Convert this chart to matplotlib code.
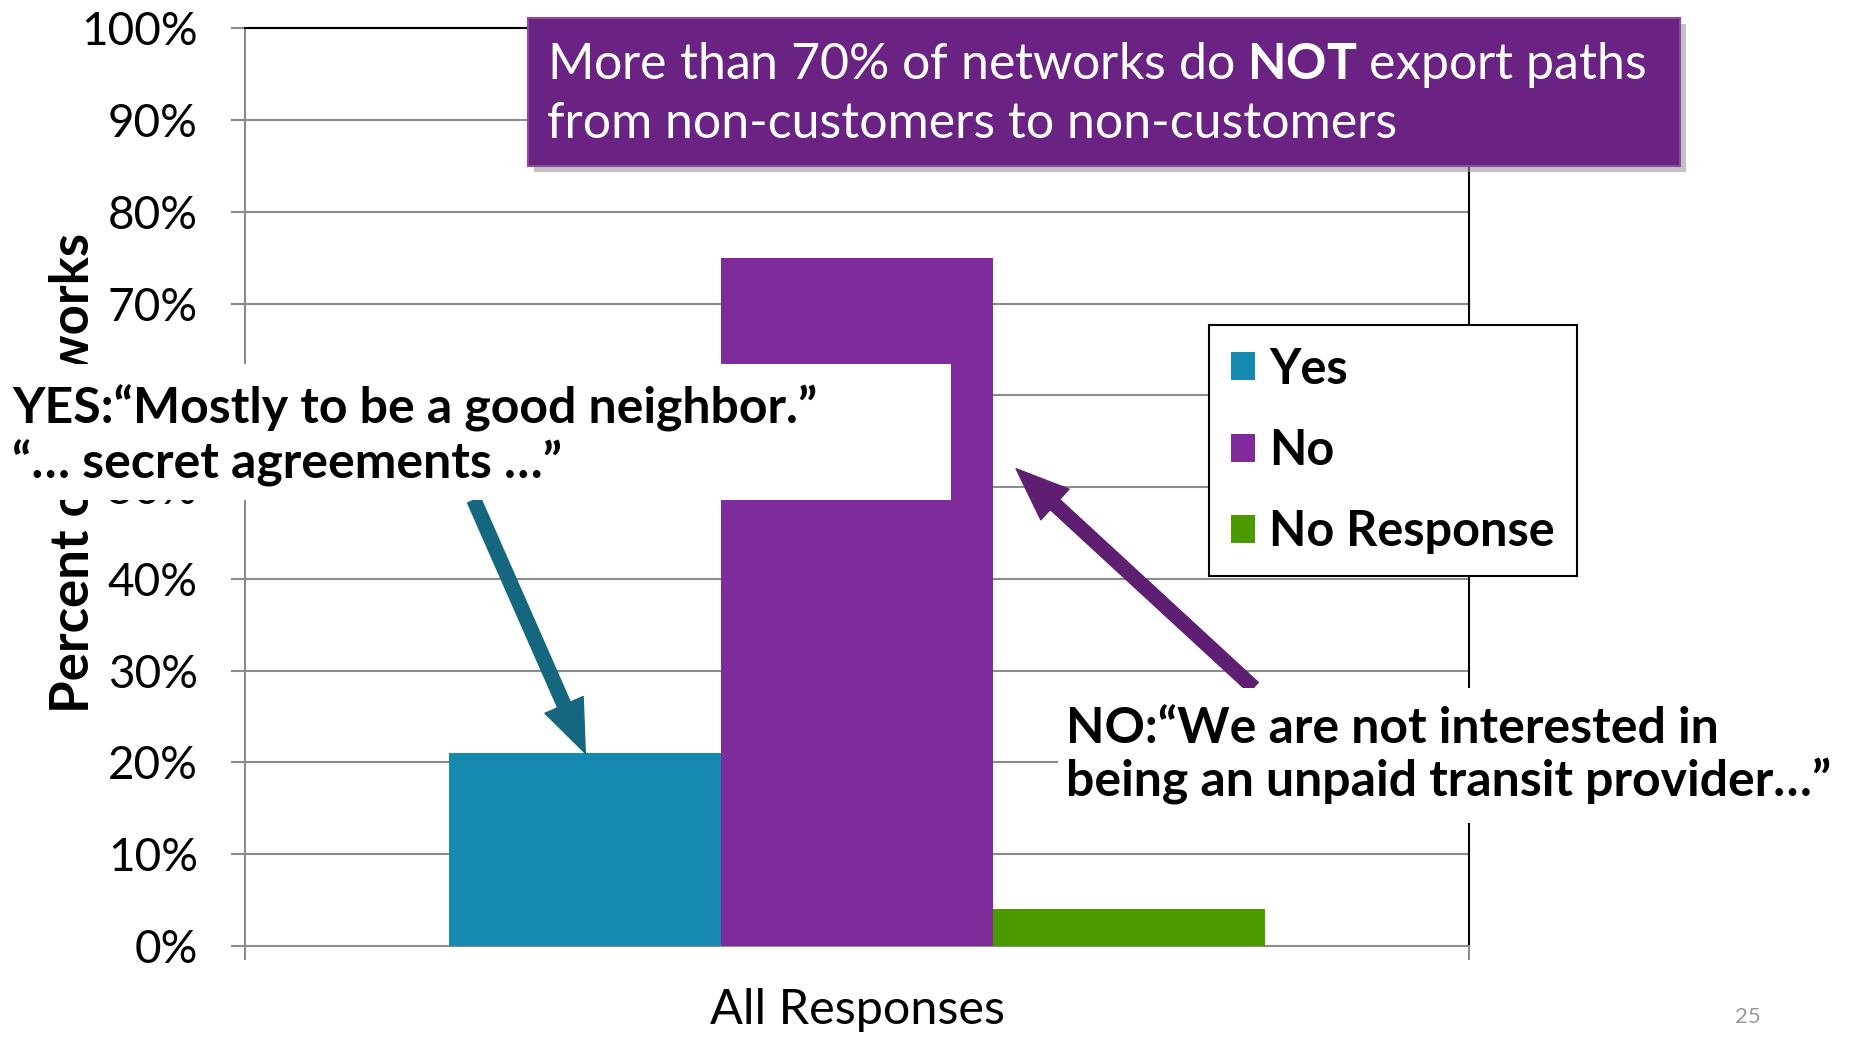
import matplotlib
matplotlib.use("Agg")
import matplotlib.pyplot as plt
import matplotlib.ticker as mticker
from matplotlib.patches import Rectangle

# data
categories = ["All Responses"]
series = ["Yes", "No", "No Response"]
values = [21, 75, 4]
colors = ["#1689B0", "#7F2B9B", "#4A9A00"]
y_ticks = [0, 10, 20, 30, 40, 50, 60, 70, 80, 90, 100]

plt.rcParams['font.family'] = ['Lato', 'DejaVu Sans']
plt.rcParams['mathtext.fontset'] = 'custom'
plt.rcParams['mathtext.rm'] = 'Lato'
plt.rcParams['mathtext.bf'] = 'Lato:bold'

GRID = '#8c8c8c'

fig = plt.figure(figsize=(18.58, 10.37), dpi=100)
ax = fig.add_axes([0.1319, 0.0878, 0.6587, 0.885])

width = 0.222
offsets = [-width, 0, width]
for s, v, c, off in zip(series, values, colors, offsets):
    ax.bar(off, v, width=width, color=c, label=s, zorder=3)

ax.set_xlim(-0.5, 0.5)
ax.set_ylim(0, 100)
ax.set_yticks(y_ticks)
ax.yaxis.set_major_formatter(mticker.FuncFormatter(lambda v, p: f"{v:.0f}%"))
ax.grid(axis='y', color=GRID, lw=1.5, zorder=0)
ax.set_xticks([0])
ax.set_xticklabels(categories)
ax.set_xticks([-0.5, 0.5], minor=True)
ax.tick_params(axis='x', which='major', length=0, labelsize=35, pad=30)
ax.tick_params(axis='x', which='minor', length=10, color=GRID, width=1.5)
ax.tick_params(axis='y', length=10, color=GRID, width=1.5, labelsize=33, pad=24)

for side in ['left', 'bottom']:
    ax.spines[side].set_color(GRID)
    ax.spines[side].set_linewidth(1.5)
for side in ['top', 'right']:
    ax.spines[side].set_color('black')
    ax.spines[side].set_linewidth(1.5)

ax.set_ylabel("Percent of networks", fontsize=38, fontweight='bold')
ax.yaxis.set_label_coords(-0.12, 0.515)

leg = ax.legend(loc='upper left', bbox_to_anchor=(0.6505, 0.6869),
                bbox_transform=fig.transFigure, prop={'weight': 'bold', 'size': 35},
                frameon=True, fancybox=False, edgecolor='black', framealpha=1,
                borderaxespad=0, handlelength=0.5, handleheight=0.5,
                handletextpad=0.3, labelspacing=0.75, borderpad=0.45)
leg.get_frame().set_linewidth(1.5)

# title box
fig.add_artist(Rectangle((0.2874, 0.834), 0.6199, 0.143, transform=fig.transFigure,
                         facecolor='#9a9a9a', edgecolor='none', alpha=0.6, zorder=4))
fig.add_artist(Rectangle((0.2844, 0.840), 0.6199, 0.143, transform=fig.transFigure,
                         facecolor='#6B2383', edgecolor='#8a4aa0', lw=1.5, zorder=5))
fig.text(0.2946, 0.910,
         "More than 70% of networks do $\\mathbf{NOT}$ export paths\nfrom non-customers to non-customers",
         color='white', fontsize=36, ha='left', va='center', linespacing=1.3, zorder=6)

# white boxes behind the quotes
fig.add_artist(Rectangle((0, 0.518), 0.512, 0.131, transform=fig.transFigure,
                         facecolor='white', edgecolor='none', zorder=5))
fig.add_artist(Rectangle((0.5695, 0.206), 0.4305, 0.131, transform=fig.transFigure,
                         facecolor='white', edgecolor='none', zorder=5))

fig.text(0.0064, 0.580, "YES:\u201cMostly to be a good neighbor.\u201d\n\u201c\u2026 secret agreements \u2026\u201d",
         fontsize=36, fontweight='bold', ha='left', va='center', linespacing=1.2, zorder=6)
fig.text(0.574, 0.2714, "NO:\u201cWe are not interested in\nbeing an unpaid transit provider\u2026\u201d",
         fontsize=36, fontweight='bold', ha='left', va='center', linespacing=1.2, zorder=6)

arrow_style = "simple,head_length=1.9,head_width=1.5,tail_width=0.5"
ax.annotate("", xy=(offsets[0], values[0]), xycoords='data',
            xytext=(0.2551, 0.5177), textcoords='figure fraction',
            arrowprops=dict(arrowstyle=arrow_style, mutation_scale=20,
                            color='#14677F', shrinkA=0, shrinkB=0),
            annotation_clip=False, zorder=7)
ax.annotate("", xy=(0.13, 52), xycoords='data',
            xytext=(0.6747, 0.337), textcoords='figure fraction',
            arrowprops=dict(arrowstyle=arrow_style, mutation_scale=20,
                            color='#5E1F72', shrinkA=0, shrinkB=0),
            annotation_clip=False, zorder=7)

fig.text(0.9407, 0.0194, "25", color='#9a9a9a', fontsize=16, ha='center', va='center')

fig.savefig("out.png", dpi=100)
